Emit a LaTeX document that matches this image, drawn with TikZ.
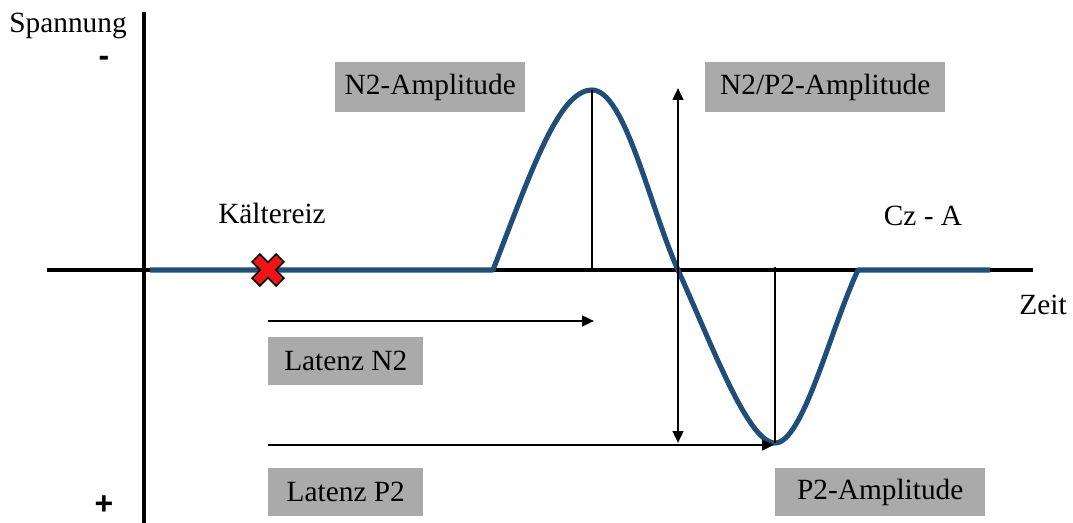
\documentclass[tikz,border=0pt]{standalone}
\usepackage{fontspec}
\setmainfont{Liberation Serif}
\newfontfamily\signfont{Liberation Sans}
\usetikzlibrary{arrows.meta}
\definecolor{boxgray}{RGB}{171,170,170}
\definecolor{curveblue}{RGB}{31,78,121}
\definecolor{xred}{RGB}{240,20,20}
\tikzset{
  lbl/.style={font=\fontsize{22}{26}\selectfont, inner sep=0pt},
  sign/.style={font=\signfont\bfseries\fontsize{24}{28}\selectfont, inner sep=0pt},
  graybox/.style={fill=boxgray, font=\fontsize{22}{26}\selectfont, inner sep=0pt, anchor=north west},
  axisline/.style={line width=3pt, black},
  thinline/.style={line width=1.8pt, black},
  arr/.style={thinline, -{Triangle[length=9pt,width=8pt]}},
  darr/.style={thinline, {Triangle[length=9pt,width=8pt]}-{Triangle[length=9pt,width=8pt]}},
  wave/.style={line width=3.8pt, curveblue, line join=round}
}
\begin{document}
\begin{tikzpicture}[x=0.75pt,y=-0.75pt]
\useasboundingbox (0,0) rectangle (1073,523);
% axes
\coordinate (yt) at (144,12);
\coordinate (yb) at (144,523);
\coordinate (xl) at (47,270);
\coordinate (xr) at (1033,270);
\draw[axisline] (yt) -- (yb);
\draw[axisline] (xl) -- (xr);
% curve
\coordinate (c0) at (150,270);
\coordinate (c1) at (493,270);
\coordinate (pk) at (592,90);
\coordinate (zc) at (678,270);
\coordinate (tr) at (775,443);
\coordinate (c4) at (858,270);
\coordinate (c5) at (990,270);
\draw[wave] (c0) -- (c1) .. controls (530,175) and (558,90) .. (pk)
  .. controls (625,90) and (650,208) .. (zc)
  .. controls (712,345) and (748,443) .. (tr)
  .. controls (803,443) and (830,330) .. (c4) -- (c5);
% vertical lines
\coordinate (pkb) at (592,270);
\draw[thinline] (pk) -- (pkb);
\coordinate (tt) at (775,267);
\draw[thinline] (tt) -- (tr);
\coordinate (dat) at (678,88);
\coordinate (dab) at (678,443);
\draw[darr] (dat) -- (dab);
% latency arrows
\coordinate (l1s) at (268,321);
\coordinate (l1e) at (594,321);
\draw[arr] (l1s) -- (l1e);
\coordinate (l2s) at (268,445);
\coordinate (l2e) at (774,445);
\draw[arr] (l2s) -- (l2e);
% red cross
\begin{scope}[shift={(268,270)}, rotate=45]
\draw[fill=xred, draw=black, line width=1.1pt, line join=miter]
 (5.5,5.5) -- (5.5,17) -- (-5.5,17) -- (-5.5,5.5) -- (-17,5.5) -- (-17,-5.5)
 -- (-5.5,-5.5) -- (-5.5,-17) -- (5.5,-17) -- (5.5,-5.5) -- (17,-5.5) -- (17,5.5) -- cycle;
\end{scope}
% gray boxes
\node[graybox, minimum width=190*0.75pt, minimum height=50*0.75pt] (bn2) at (335,62) {};
\node[lbl] (tn2) at (bn2.center) {N2-Amplitude};
\node[graybox, minimum width=240*0.75pt, minimum height=50*0.75pt] (bnp) at (705,62) {};
\node[lbl] (tnp) at (bnp.center) {N2/P2-Amplitude};
\node[graybox, minimum width=155*0.75pt, minimum height=48*0.75pt] (bl1) at (268,337) {};
\node[lbl] (tl1) at (bl1.center) {Latenz N2};
\node[graybox, minimum width=155*0.75pt, minimum height=48*0.75pt] (bl2) at (268,468) {};
\node[lbl] (tl2) at (bl2.center) {Latenz P2};
\node[graybox, minimum width=210*0.75pt, minimum height=48*0.75pt] (bp2) at (775,468) {};
\node[lbl] (tp2) at (bp2.center) {P2-Amplitude};
% labels
\node[lbl] (span) at (68,26) {Spannung};
\node[sign] (minus) at (104,61) {-};
\node[sign] (plus) at (104,505) {+};
\node[lbl] (kalt) at (272,213) {Kältereiz};
\node[lbl] (cz) at (923,216) {Cz - A};
\node[lbl] (zeit) at (1043,305) {Zeit};
\end{tikzpicture}
\end{document}
